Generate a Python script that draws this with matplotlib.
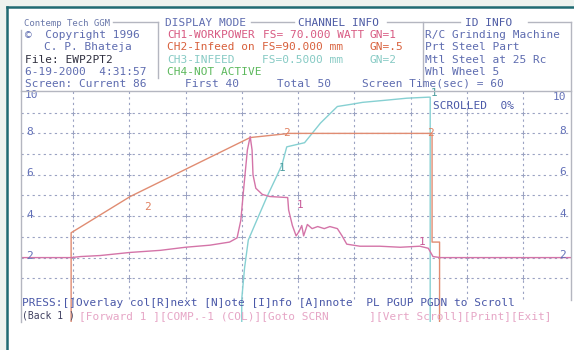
import matplotlib
matplotlib.use("Agg")
import matplotlib.pyplot as plt
from matplotlib.patches import Rectangle
from matplotlib.lines import Line2D

# ---------------- data (time in s, value in screen divisions) ----------------
# trace 1 : CH1 work power
t1 = [0.45, 5.8, 6.8, 8.9, 12.1, 15.3, 18.0, 20.6, 22.7, 23.5, 23.9, 24.2, 24.6, 24.9,
      25.1, 25.2, 25.5, 26.2, 27.0, 28.9, 29.0, 29.4, 29.8, 30.1, 30.4, 30.6, 31.0, 31.5,
      32.1, 32.8, 33.4, 34.2, 34.7, 35.2, 36.6, 38.7, 40.9, 43.0, 43.9, 44.4, 45.2, 59.1]
v1 = [2.0, 2.0, 2.05, 2.1, 2.25, 2.35, 2.5, 2.6, 2.75, 2.95, 3.8, 5.3, 7.2, 7.85,
      7.2, 6.0, 5.35, 5.05, 4.95, 4.9, 4.3, 3.55, 3.05, 3.25, 3.55, 3.05, 3.6, 3.4,
      3.5, 3.4, 3.5, 3.4, 3.05, 2.65, 2.55, 2.55, 2.5, 2.55, 2.45, 2.05, 2.0, 2.0]
# trace 2 : CH2 infeed on
t2 = [5.8, 5.8, 12.1, 24.9, 29.1, 44.3, 44.3, 45.1, 45.1]
v2 = [-1.2, 3.2, 4.95, 7.8, 8.0, 8.0, 2.75, 2.75, -1.2]
# trace 3 : CH3 infeed
t3 = [24.0, 24.0, 24.3, 24.7, 25.6, 26.7, 27.8, 28.3, 28.8, 30.7, 32.4, 34.2, 35.6,
      36.9, 39.3, 41.6, 43.9, 44.1, 44.1]
v3 = [-1.2, 0.0, 1.5, 2.85, 3.8, 4.95, 6.0, 6.5, 7.35, 7.55, 8.5, 9.3, 9.4,
      9.5, 9.6, 9.7, 9.75, 9.75, -1.2]

grid_t = [6, 12, 18, 24, 30, 36, 42, 48, 54]
grid_v = [1, 2, 3, 4, 5, 6, 7, 8, 9]
ytick_vals = [2, 4, 6, 8]
ytick_labels = ["2", "4", "6", "8"]

# ---------------- figure ----------------
W, H = 574, 350
fig = plt.figure(figsize=(W / 100, H / 100), dpi=100)
fig.patch.set_facecolor("#edf3ef")
fig.add_artist(Rectangle((8 / W, 0), 1, 1 - 8 / H, transform=fig.transFigure,
                         facecolor="white", edgecolor="none", zorder=0))

def L(xs, ys, c, lw, z=1, **kw):
    fig.add_artist(Line2D([x / W for x in xs], [1 - y / H for y in ys], color=c, lw=lw,
                          transform=fig.transFigure, zorder=z, **kw))

MONO = "DejaVu Sans Mono"
def T(px, py, s, c, fs=8, ha="left", **kw):
    fig.text(px / W, 1 - py / H, s, color=c, fontsize=fs, family=MONO, ha=ha,
             va="center", zorder=5, **kw)

# teal outer border
L([7, 7], [7, 350], "#1f6b72", 1.8, z=3)
L([7, 574], [7, 7], "#1f6b72", 1.8, z=3)

# header frame lines
FR = "#b4b6c0"
L([113, 158], [22, 22], FR, 1.0)
L([251, 294], [22, 22], FR, 1.0)
L([387, 460], [22, 22], FR, 1.0)
L([528, 571], [22, 22], FR, 1.0)
L([158, 158], [22, 78], FR, 1.0)
L([423, 423], [22, 86], FR, 1.0)
L([571, 571], [22, 300], FR, 1.0)
L([21, 21], [30, 322], FR, 1.0)
L([21, 571], [91, 91], FR, 1.0)

NAV = "#5e6cb0"
# header rows
T(24, 23, "Contemp Tech GGM", "#6a78aa", fs=6.5)
T(165, 23, "DISPLAY MODE", NAV)
T(298, 23, "CHANNEL INFO", "#4c5aa4")
T(465, 23, "ID INFO", "#4c5aa4")

T(25, 35, "\u00a9  Copyright 1996", NAV)
T(167, 35, "CH1-WORKPOWER", "#d85a82")
T(263, 35, "FS= 70.000 WATT", "#d85a82")
T(370, 35, "GN=1", "#d85a82")
T(425, 35, "R/C Grinding Machine", NAV)

T(44, 47, "C. P. Bhateja", NAV)
T(167, 47, "CH2-Infeed on", "#d8603c")
T(262, 47, "FS=90.000 mm", "#d8603c")
T(370, 47, "GN=.5", "#d8603c")
T(425, 47, "Prt Steel Part", NAV)

T(25, 60, "File: EWP2PT2", "#303040")
T(167, 60, "CH3-INFEED", "#86cac4")
T(262, 60, "FS=0.5000 mm", "#86cac4")
T(370, 60, "GN=2", "#86cac4")
T(425, 60, "Mtl Steel at 25 Rc", NAV)

T(25, 72, "6-19-2000  4:31:57", NAV)
T(167, 72, "CH4-NOT ACTIVE", "#5cb85c")
T(425, 72, "Whl Wheel 5", NAV)

T(25, 84, "Screen: Current 86", NAV)
T(185, 84, "First 40", NAV)
T(277, 84, "Total 50", NAV)
T(362, 84, "Screen Time(sec) = 60", NAV)

# footer
T(22, 303, "PRESS:[]Overlay col[R]next [N]ote [I]nfo [A]nnote  PL PGUP PGDN to Scroll", "#4a58a8")
T(22, 316, "(Back 1 )", "#404060", fs=7)
T(79, 316, "[Forward 1 ][COMP.-1 (COL)][Goto SCRN      ][Vert Scroll][Print][Exit]", "#e6a6c6")

# ---------------- plot axes ----------------
ax = fig.add_axes([21 / W, 1 - 322 / H, 550 / W, 231 / H])
ax.set_facecolor("none")
ax.set_xlim(0.453, 59.12)
ax.set_ylim(-1.111, 10.048)
for s in ax.spines.values():
    s.set_visible(False)
ax.set_xticks([])
ax.set_yticks([])

GC = "#9aa2c2"
for v in grid_v:
    ax.plot([0.453, 59.12], [v, v], color=GC, lw=0.8, ls=(0, (2, 3)), zorder=1)
for t in grid_t:
    ax.plot([t, t], [0, 10.048], color=GC, lw=0.8, ls=(0, (2, 3)), zorder=1)
tt = [t for t in grid_t for v in grid_v]
vv = [v for t in grid_t for v in grid_v]
ax.plot(tt, vv, "+", ms=3.5, mew=0.7, color=GC, zorder=1)

ax.plot(t3, v3, color="#86d0d2", lw=1.0, zorder=3)
ax.plot(t2, v2, color="#e08c72", lw=1.0, zorder=4)
ax.plot(t1, v1, color="#d474a8", lw=1.0, zorder=5)

# trace labels
LBL = dict(family=MONO, fontsize=8, ha="center", va="center", zorder=6)
ax.text(13.9, 4.44, "2", color="#e08060", **LBL)
ax.text(28.8, 8.0, "2", color="#e08060", **LBL)
ax.text(44.1, 8.0, "2", color="#e08060", **LBL)
ax.text(30.2, 4.54, "1", color="#c85a98", **LBL)
ax.text(43.2, 2.75, "1", color="#c85a98", **LBL)
ax.text(28.3, 6.33, "1", color="#4e9ea0", **LBL)
ax.text(44.5, 9.95, "1", color="#4e9ea0", **LBL)

# axis value labels (left and right)
TL = dict(family=MONO, fontsize=8, color="#6270b8", va="center", zorder=6)
ax.text(0.9, 9.85, "10", ha="left", **TL)
ax.text(58.6, 9.75, "10", ha="right", **TL)
for v, s in zip(ytick_vals, ytick_labels):
    ax.text(1.0, v + 0.08, s, ha="left", **TL)
    ax.text(58.6, v + 0.12, s, ha="right", **TL)

ax.text(44.4, 9.3, "SCROLLED  0%", ha="left", family=MONO, fontsize=8,
        color="#4a58a8", va="center", zorder=6)

fig.savefig("out.png", dpi=100)
